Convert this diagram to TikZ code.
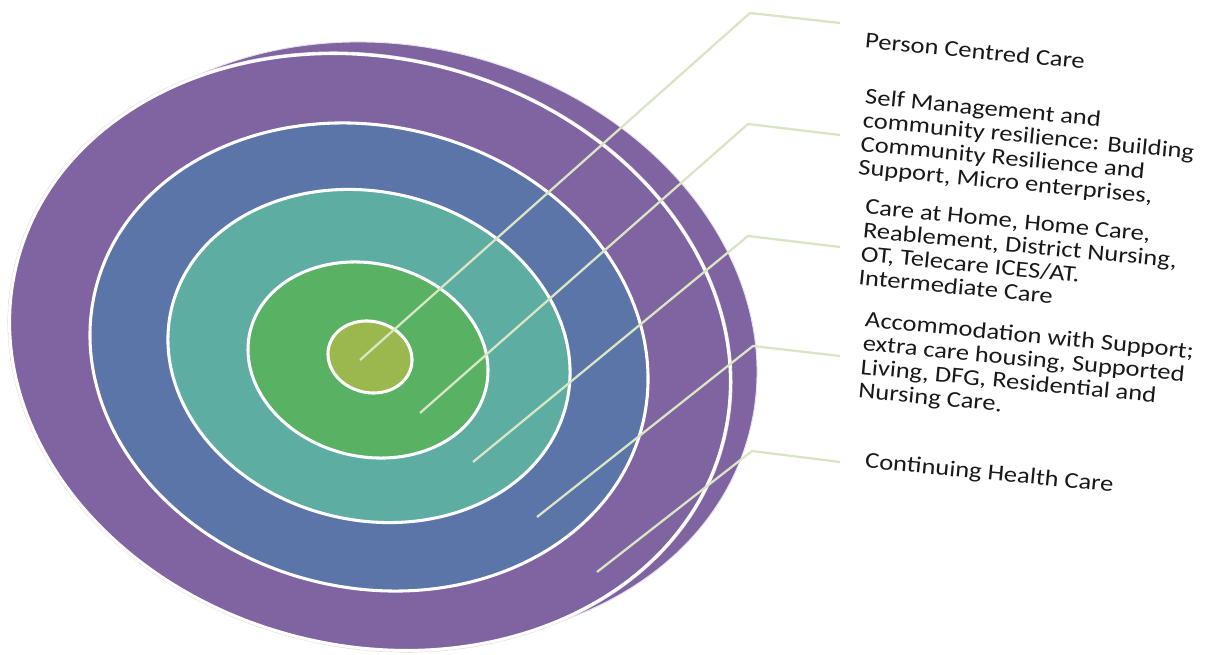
\documentclass[tikz,border=0pt]{standalone}
\usepackage{fontspec}
\setmainfont{Carlito}[FakeStretch=1.17]
\definecolor{ringpurple}{HTML}{8064A2}
\definecolor{ringblue}{HTML}{5B75A8}
\definecolor{ringteal}{HTML}{5DADA3}
\definecolor{ringgreen}{HTML}{59B163}
\definecolor{ringcore}{HTML}{9BB84E}
\definecolor{leadcol}{HTML}{D9E5C3}
\definecolor{rimcol}{HTML}{E6E1EC}
\begin{document}
\begin{tikzpicture}[x=0.75pt,y=-0.75pt,
  ring/.style={draw=white,line width=2.3pt},
  rim/.style={draw=rimcol,line width=0.7pt},
  leader/.style={draw=leadcol,line width=1.7pt,line join=round},
  tag/.style={anchor=north west,inner sep=0pt,align=left,rotate=-5.5,
    font=\fontsize{17pt}{17.8pt}\selectfont,text=black!90}]
\useasboundingbox (0,0) rectangle (1206,655);

% back disc and front disc of the outer band
\path[rim,fill=ringpurple,rotate around={-14:(395,342)}] (395,342) ellipse [x radius=365.7,y radius=295.4];
\path[rim,fill=ringpurple,rotate around={-14:(370,352)}] (370,352) ellipse [x radius=365.7,y radius=295.4];
\path[ring,fill=ringpurple,rotate around={-14:(370,352)}] (370,352) ellipse [x radius=364.1,y radius=293.8];

% inner bands
\path[ring,fill=ringblue,rotate around={-14:(369,357)}] (369,357) ellipse [x radius=281.7,y radius=230.7];
\path[ring,fill=ringteal,rotate around={-14:(369,356)}] (369,356) ellipse [x radius=203.1,y radius=164.0];
\path[ring,fill=ringgreen,rotate around={-14:(368,360)}] (368,360) ellipse [x radius=121.3,y radius=96.4];
\path[ring,fill=ringcore,rotate around={-14:(370,357)}] (370,357) ellipse [x radius=42.4,y radius=35.6];

% leader lines
\coordinate (s1) at (360,360); \coordinate (k1) at (750,13);  \coordinate (e1) at (840,23);
\coordinate (s2) at (420,413); \coordinate (k2) at (748,124); \coordinate (e2) at (840,135);
\coordinate (s3) at (473,462); \coordinate (k3) at (748,236); \coordinate (e3) at (840,247);
\coordinate (s4) at (537,517); \coordinate (k4) at (753,346); \coordinate (e4) at (840,356);
\coordinate (s5) at (597,572); \coordinate (k5) at (752,451); \coordinate (e5) at (840,462);
\draw[leader] (s1) -- (k1) -- (e1);
\draw[leader] (s2) -- (k2) -- (e2);
\draw[leader] (s3) -- (k3) -- (e3);
\draw[leader] (s4) -- (k4) -- (e4);
\draw[leader] (s5) -- (k5) -- (e5);

% labels
\node[tag] (t1) at (866,32) {Person Centred Care};
\node[tag] (t2) at (866,88) {Self Management and\\community resilience: Building\\Community Resilience and\\Support, Micro enterprises,};
\node[tag] (t3) at (866,199) {Care at Home, Home Care,\\Reablement, District Nursing,\\OT, Telecare ICES/AT.\\Intermediate Care};
\node[tag] (t4) at (866,311) {Accommodation with Support;\\extra care housing, Supported\\Living, DFG, Residential and\\Nursing Care.};
\node[tag] (t5) at (866,452) {Continuing Health Care};
\end{tikzpicture}
\end{document}
